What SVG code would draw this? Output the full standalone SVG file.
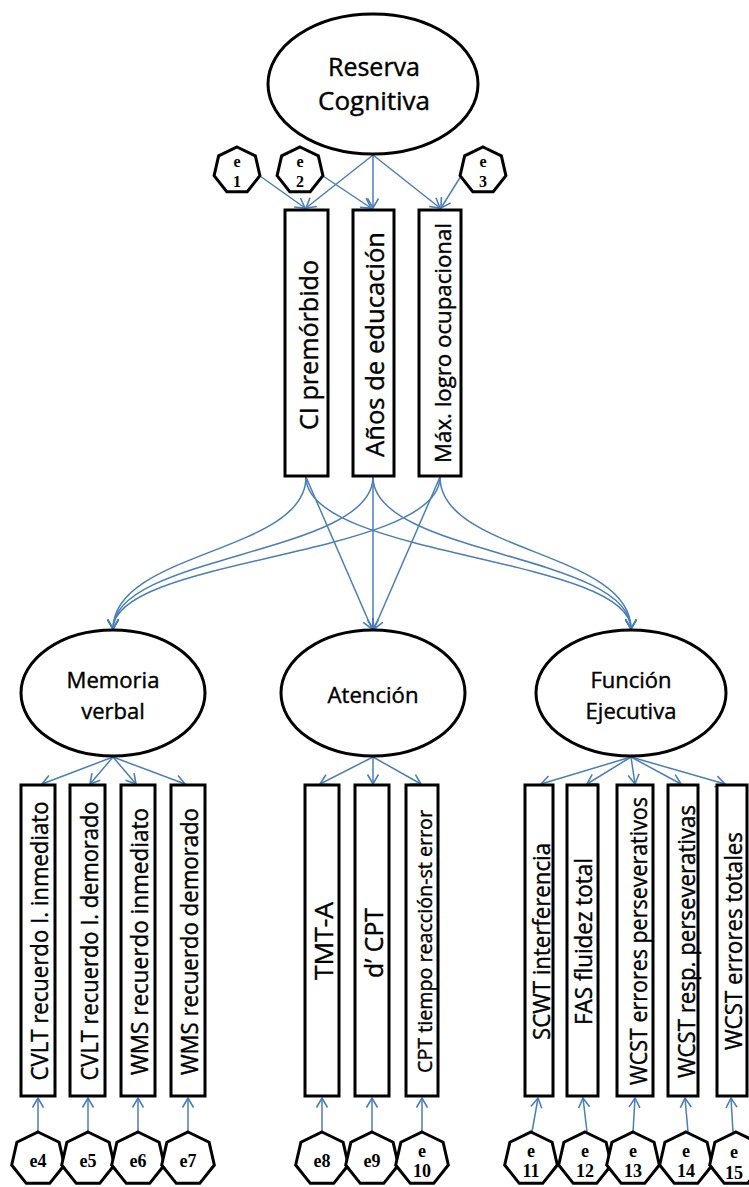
<svg xmlns="http://www.w3.org/2000/svg" xmlns:xlink="http://www.w3.org/1999/xlink" width="749" height="1187" viewBox="0 0 749 1187">
<style>
.lat{fill:#fff;stroke:#000;stroke-width:3}
.box{fill:#fff;stroke:#000;stroke-width:3}
.hep{fill:#fff;stroke:#000;stroke-width:3;stroke-linejoin:miter}
.lbl{font-family:"Open Sans","Liberation Sans",sans-serif;fill:#000;stroke:#000;stroke-width:0.4;text-anchor:middle}
.el{font-family:"Liberation Serif",serif;font-weight:bold;fill:#000;text-anchor:middle;font-size:18px}
.et{font-size:16px}
.con path{fill:none;stroke:#4A7EBB;stroke-width:1.5;marker-end:url(#arr)}
</style>
<defs>
<marker id="arr" markerUnits="userSpaceOnUse" viewBox="-11 -7 13 14" refX="0" refY="0" markerWidth="13" markerHeight="14" orient="auto">
<path d="M-9.5,-5.5 L0,0 L-9.5,5.5" fill="none" stroke="#4A7EBB" stroke-width="1.6"/>
</marker>
<polygon id="hs" class="hep" points="0,-23.5 18.37,-14.65 22.91,5.23 10.2,21.17 -10.2,21.17 -22.91,5.23 -18.37,-14.65"/>
<polygon id="hl" class="hep" points="0,-27 21.11,-16.83 26.32,6.01 11.72,24.33 -11.72,24.33 -26.32,6.01 -21.11,-16.83"/>
</defs>

<g class="con" id="connectors">
<path d="M373,155 L306,208"/>
<path d="M373,155 L373,208"/>
<path d="M373,155 L440,208"/>
<path d="M260,176 L305,208"/>
<path d="M323,176 L371,208"/>
<path d="M461,176 L441,208"/>
<path d="M306,477 C306,553 113,551 113,629"/>
<path d="M373,477 C373,555 113,554 113,629"/>
<path d="M440,477 C440,557 113,557 113,629"/>
<path d="M440,477 C440,553 631,551 631,629"/>
<path d="M373,477 C373,555 631,554 631,629"/>
<path d="M306,477 C306,557 631,557 631,629"/>
<path d="M306,477 L372,629"/>
<path d="M373,477 L373,629"/>
<path d="M440,477 L374,629"/>
<path d="M113,757 L42,784"/>
<path d="M113,757 L90,784"/>
<path d="M113,757 L136,784"/>
<path d="M113,757 L185,784"/>
<path d="M373,757 L320,784"/>
<path d="M373,757 L373,784"/>
<path d="M373,757 L421,784"/>
<path d="M631,757 L541,784"/>
<path d="M631,757 L587,784"/>
<path d="M631,757 L635,784"/>
<path d="M631,757 L681,784"/>
<path d="M631,757 L725,784"/>
<path d="M38,1132 L38,1098"/>
<path d="M88,1132 L88,1098"/>
<path d="M138,1132 L138,1098"/>
<path d="M188,1132 L188,1098"/>
<path d="M322,1132 L322,1098"/>
<path d="M372,1132 L372,1098"/>
<path d="M422,1132 L422,1098"/>
<path d="M532,1132 L538,1098"/>
<path d="M587,1132 L583,1098"/>
<path d="M633,1132 L635,1098"/>
<path d="M688,1132 L685,1098"/>
<path d="M733,1132 L731,1098"/>
</g>

<g id="reserva"><ellipse class="lat" cx="373" cy="84" rx="105" ry="70"/>
<text class="lbl" x="374" y="76" font-size="25" textLength="92" lengthAdjust="spacingAndGlyphs">Reserva</text>
<text class="lbl" x="374" y="110" font-size="25" textLength="112" lengthAdjust="spacingAndGlyphs">Cognitiva</text></g>

<g id="e1"><use xlink:href="#hs" x="237" y="170.5"/><text class="el et" x="237" y="167">e</text><text class="el et" x="237" y="187">1</text></g>
<g id="e2"><use xlink:href="#hs" x="300" y="170.5"/><text class="el et" x="300" y="167">e</text><text class="el et" x="300" y="187">2</text></g>
<g id="e3"><use xlink:href="#hs" x="483" y="170.5"/><text class="el et" x="483" y="167">e</text><text class="el et" x="483" y="187">3</text></g>

<g id="ci"><rect class="box" x="285" y="210" width="43" height="266"/>
<text class="lbl" font-size="25.5" transform="translate(317.5,345) rotate(-90)" textLength="170" lengthAdjust="spacingAndGlyphs">CI premórbido</text></g>
<g id="anos"><rect class="box" x="353" y="210" width="41" height="266"/>
<text class="lbl" font-size="25.5" transform="translate(384,344.5) rotate(-90)" textLength="225" lengthAdjust="spacingAndGlyphs">Años de educación</text></g>
<g id="maxlogro"><rect class="box" x="419" y="210" width="42" height="266"/>
<text class="lbl" font-size="22.5" transform="translate(450.5,343) rotate(-90)" textLength="240" lengthAdjust="spacingAndGlyphs">Máx. logro ocupacional</text></g>

<g id="memoria"><ellipse class="lat" cx="113" cy="693" rx="92" ry="63"/>
<text class="lbl" x="113" y="688" font-size="22" textLength="93" lengthAdjust="spacingAndGlyphs">Memoria</text>
<text class="lbl" x="113" y="719" font-size="22">verbal</text></g>
<g id="atencion"><ellipse class="lat" cx="373" cy="693" rx="92" ry="63"/>
<text class="lbl" x="373" y="703" font-size="22" textLength="91" lengthAdjust="spacingAndGlyphs">Atención</text></g>
<g id="funcion"><ellipse class="lat" cx="631" cy="693" rx="95" ry="63"/>
<text class="lbl" x="631" y="688" font-size="22">Función</text>
<text class="lbl" x="631" y="719" font-size="22">Ejecutiva</text></g>

<g id="cvlt1"><rect class="box" x="21" y="785" width="34" height="311"/>
<text class="lbl" font-size="23" transform="translate(48,941) rotate(-90)" textLength="279" lengthAdjust="spacingAndGlyphs">CVLT recuerdo I. inmediato</text></g>
<g id="cvlt2"><rect class="box" x="70" y="785" width="35" height="311"/>
<text class="lbl" font-size="23" transform="translate(97.5,941) rotate(-90)" textLength="279" lengthAdjust="spacingAndGlyphs">CVLT recuerdo I. demorado</text></g>
<g id="wms1"><rect class="box" x="121" y="785" width="34" height="311"/>
<text class="lbl" font-size="23" transform="translate(148,941.5) rotate(-90)" textLength="267" lengthAdjust="spacingAndGlyphs">WMS recuerdo inmediato</text></g>
<g id="wms2"><rect class="box" x="171" y="785" width="34" height="311"/>
<text class="lbl" font-size="23" transform="translate(198,941.5) rotate(-90)" textLength="267" lengthAdjust="spacingAndGlyphs">WMS recuerdo demorado</text></g>

<g id="tmta"><rect class="box" x="305" y="785" width="34" height="311"/>
<text class="lbl" font-size="26" transform="translate(333,941) rotate(-90)" textLength="78" lengthAdjust="spacingAndGlyphs">TMT-A</text></g>
<g id="dcpt"><rect class="box" x="355" y="785" width="34" height="311"/>
<text class="lbl" font-size="26" transform="translate(383,943) rotate(-90)" textLength="70" lengthAdjust="spacingAndGlyphs">d’ CPT</text></g>
<g id="cpttr"><rect class="box" x="406" y="785" width="32" height="311"/>
<text class="lbl" font-size="20" transform="translate(432,941.5) rotate(-90)" textLength="263" lengthAdjust="spacingAndGlyphs">CPT tiempo reacción-st error</text></g>

<g id="scwt"><rect class="box" x="525" y="785" width="28" height="311"/>
<text class="lbl" font-size="24" transform="translate(550,941.5) rotate(-90)" textLength="197" lengthAdjust="spacingAndGlyphs">SCWT interferencia</text></g>
<g id="fas"><rect class="box" x="567" y="785" width="31" height="311"/>
<text class="lbl" font-size="24" transform="translate(592,941.5) rotate(-90)" textLength="167" lengthAdjust="spacingAndGlyphs">FAS fluidez total</text></g>
<g id="wcst1"><rect class="box" x="617" y="785" width="36" height="311"/>
<text class="lbl" font-size="24" transform="translate(647,941) rotate(-90)" textLength="288" lengthAdjust="spacingAndGlyphs">WCST errores perseverativos</text></g>
<g id="wcst2"><rect class="box" x="668" y="785" width="30" height="311"/>
<text class="lbl" font-size="24" transform="translate(695,941.5) rotate(-90)" textLength="273" lengthAdjust="spacingAndGlyphs">WCST resp. perseverativas</text></g>
<g id="wcst3"><rect class="box" x="717" y="785" width="30" height="311"/>
<text class="lbl" font-size="24" transform="translate(742,941) rotate(-90)" textLength="218" lengthAdjust="spacingAndGlyphs">WCST errores totales</text></g>

<g id="e4"><use xlink:href="#hl" x="38" y="1159"/><text class="el" x="38" y="1167">e4</text></g>
<g id="e5"><use xlink:href="#hl" x="88" y="1159"/><text class="el" x="88" y="1167">e5</text></g>
<g id="e6"><use xlink:href="#hl" x="138" y="1159"/><text class="el" x="138" y="1167">e6</text></g>
<g id="e7"><use xlink:href="#hl" x="188" y="1159"/><text class="el" x="188" y="1167">e7</text></g>
<g id="e8"><use xlink:href="#hl" x="322" y="1159"/><text class="el" x="322" y="1167">e8</text></g>
<g id="e9"><use xlink:href="#hl" x="372" y="1159"/><text class="el" x="372" y="1167">e9</text></g>
<g id="e10"><use xlink:href="#hl" x="422" y="1159"/><text class="el" x="422" y="1157">e</text><text class="el" x="422" y="1177">10</text></g>
<g id="e11"><use xlink:href="#hl" x="531" y="1159"/><text class="el" x="531" y="1157">e</text><text class="el" x="531" y="1177">11</text></g>
<g id="e12"><use xlink:href="#hl" x="585" y="1159"/><text class="el" x="585" y="1157">e</text><text class="el" x="585" y="1177">12</text></g>
<g id="e13"><use xlink:href="#hl" x="633" y="1159"/><text class="el" x="633" y="1157">e</text><text class="el" x="633" y="1177">13</text></g>
<g id="e14"><use xlink:href="#hl" x="686" y="1159"/><text class="el" x="686" y="1157">e</text><text class="el" x="686" y="1177">14</text></g>
<g id="e15"><use xlink:href="#hl" x="736" y="1159"/><text class="el" x="734" y="1158" font-size="21">e</text><text class="el" x="734" y="1179">15</text></g>
</svg>
